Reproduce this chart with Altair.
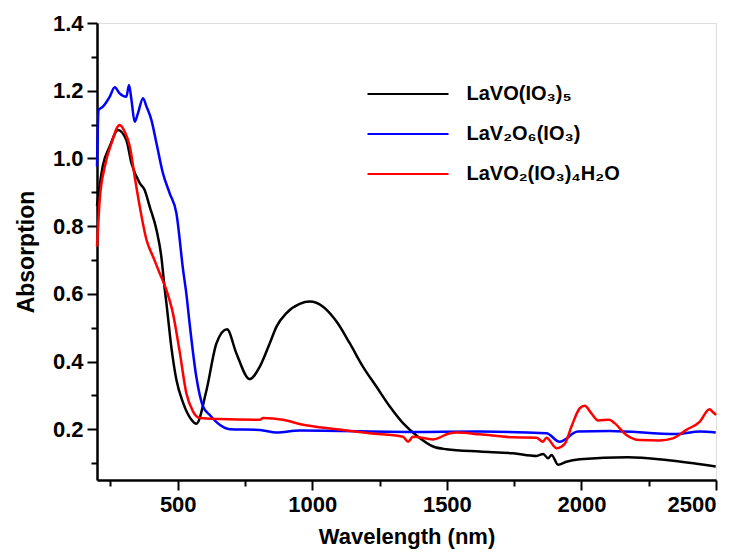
import altair as alt
import pandas as pd

# LaVO(IO3)5 (black)
black_x = [200, 222, 247, 278, 309, 328, 359, 377, 396, 421, 439, 452, 458, 476, 495, 520, 551, 569,
           607, 644, 683, 718, 767, 805, 842, 867, 904, 953, 990, 1040, 1090, 1139, 1188, 1238, 1288,
           1337, 1393, 1449, 1498, 1622, 1746, 1833, 1858, 1876, 1889, 1913, 1944, 1994, 2173, 2316, 2499]
black_y = [0.86, 0.98, 1.035, 1.084, 1.054, 0.986, 0.927, 0.907, 0.857, 0.789, 0.71, 0.611, 0.572, 0.444,
           0.346, 0.278, 0.228, 0.216, 0.316, 0.454, 0.495, 0.424, 0.348, 0.385, 0.454, 0.503, 0.543,
           0.57, 0.577, 0.562, 0.518, 0.454, 0.385, 0.326, 0.267, 0.218, 0.178, 0.149, 0.141, 0.134,
           0.129, 0.121, 0.127, 0.114, 0.124, 0.095, 0.104, 0.111, 0.117, 0.109, 0.09]

# LaV2O6(IO3) (blue)
blue_x = [200, 206, 222, 247, 266, 284, 309, 319, 328, 340, 352, 371, 384, 402, 421, 445, 470, 495,
          520, 532, 544, 569, 594, 619, 656, 693, 805, 867, 953, 1399, 1622, 1870, 1919, 1986, 2104,
          2353, 2440, 2499]
blue_y = [0.976, 1.143, 1.153, 1.182, 1.21, 1.192, 1.182, 1.217, 1.173, 1.108, 1.133, 1.178, 1.153,
          1.114, 1.045, 0.956, 0.897, 0.838, 0.67, 0.6, 0.513, 0.355, 0.267, 0.242, 0.213, 0.2, 0.198,
          0.19, 0.196, 0.192, 0.193, 0.188, 0.163, 0.193, 0.195, 0.186, 0.193, 0.19]

# LaVO2(IO3)4H2O (red)
red_x = [200, 210, 229, 254, 284, 303, 322, 340, 359, 384, 408, 433, 458, 482, 507, 532, 557, 582,
         656, 805, 817, 891, 966, 1090, 1213, 1337, 1356, 1374, 1449, 1511, 1536, 1622, 1746, 1833,
         1857, 1870, 1907, 1938, 1963, 1994, 2012, 2037, 2062, 2104, 2123, 2167, 2216, 2290, 2340,
         2390, 2439, 2476, 2489, 2500]
red_y = [0.739, 0.877, 0.976, 1.045, 1.099, 1.079, 1.035, 0.946, 0.857, 0.759, 0.71, 0.661, 0.611,
         0.543, 0.43, 0.306, 0.252, 0.233, 0.23, 0.228, 0.233, 0.228, 0.213, 0.2, 0.188, 0.178, 0.163,
         0.178, 0.17, 0.188, 0.19, 0.185, 0.176, 0.175, 0.163, 0.175, 0.144, 0.157, 0.208, 0.262,
         0.269, 0.247, 0.226, 0.228, 0.218, 0.183, 0.168, 0.167, 0.173, 0.198, 0.222, 0.259, 0.25, 0.242]

series_names = ["LaVO(IO₃)₅", "LaV₂O₆(IO₃)", "LaVO₂(IO₃)₄H₂O"]
series_colors = ["#000000", "#0000ff", "#ff0000"]

x_major = [500, 1000, 1500, 2000, 2500]
x_minor = [250, 750, 1250, 1750, 2250]
y_major = [0.2, 0.4, 0.6, 0.8, 1.0, 1.2, 1.4]
y_minor = [0.1, 0.3, 0.5, 0.7, 0.9, 1.1, 1.3]

rows = []
for name, xs, ys in zip(series_names, [black_x, blue_x, red_x], [black_y, blue_y, red_y]):
    for i, (a, b) in enumerate(zip(xs, ys)):
        rows.append({"series": name, "wl": a, "abs": b, "order": i})
df = pd.DataFrame(rows)

FONT = "Liberation Sans"
xscale = alt.Scale(domain=[200, 2500], nice=False, zero=False)
yscale = alt.Scale(domain=[0.05, 1.4], nice=False, zero=False)

common_axis = dict(domainColor="black", domainWidth=2.5, tickColor="black", tickWidth=2,
                   grid=False, labelFont=FONT, labelFontWeight="bold", labelColor="black",
                   labelFontSize=22, titleFont=FONT, titleFontWeight="bold", titleColor="black")

main = alt.Chart(df).mark_line(strokeWidth=2.5, interpolate="monotone").encode(
    x=alt.X("wl:Q", scale=xscale,
            axis=alt.Axis(values=x_major, tickSize=10, labelPadding=4, title="Wavelength (nm)",
                          titlePadding=11, titleFontSize=22, orient="bottom", format="d",
                          **common_axis)),
    y=alt.Y("abs:Q", scale=yscale,
            axis=alt.Axis(values=y_major, tickSize=10, labelPadding=4, title="Absorption",
                          titlePadding=14, titleFontSize=23, orient="left", format=".1f",
                          **common_axis)),
    color=alt.Color("series:N", sort=series_names,
                    scale=alt.Scale(domain=series_names, range=series_colors),
                    legend=alt.Legend(orient="none", legendX=300, legendY=60, title=None,
                                      symbolType="M-4.05,0H4.05", symbolSize=400, symbolStrokeWidth=2,
                                      labelFont=FONT, labelFontWeight="bold", labelFontSize=20,
                                      labelColor="black", labelOffset=47.5, rowPadding=19)),
    order="order:Q",
)

minor = alt.Chart(df).mark_line(strokeOpacity=0).encode(
    x=alt.X("wl:Q", scale=xscale,
            axis=alt.Axis(values=x_minor, tickSize=6, labels=False, domain=False, title="",
                          orient="bottom", tickColor="black", tickWidth=2, grid=False)),
    y=alt.Y("abs:Q", scale=yscale,
            axis=alt.Axis(values=y_minor, tickSize=6, labels=False, domain=False, title="",
                          orient="left", tickColor="black", tickWidth=2, grid=False)),
    detail="series:N",
    order="order:Q",
)

chart = alt.layer(main, minor).resolve_axis(x="independent", y="independent").properties(
    width=619, height=457,
    autosize=alt.AutoSizeParams(type="none"),
    padding={"left": 89, "top": 15, "right": 23, "bottom": 70},
).configure_view(stroke="black", strokeWidth=2.5, strokeOpacity=1).configure(background="white")

chart.save("out.html", embed_options={"renderer": "svg", "actions": False})
